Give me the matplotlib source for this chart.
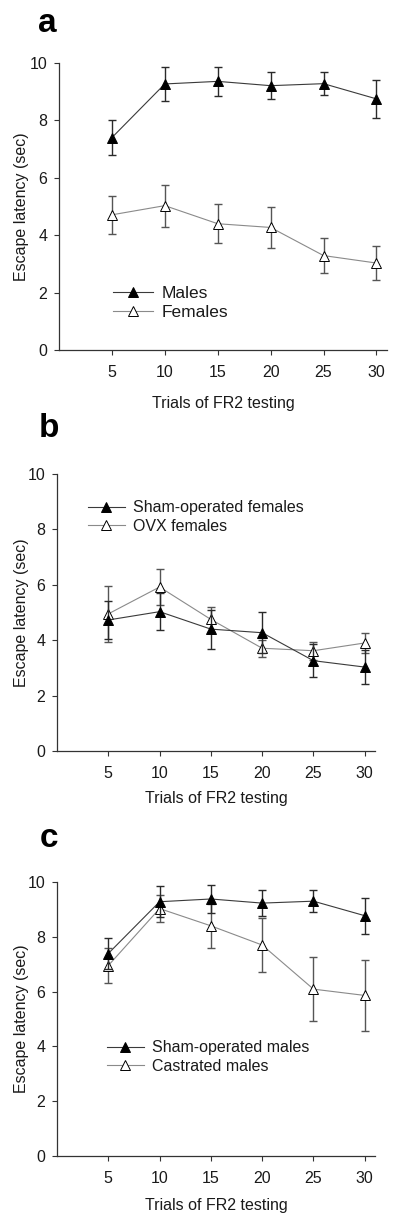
import matplotlib
matplotlib.use("Agg")
import matplotlib.pyplot as plt

plt.rcParams['font.family'] = ['Liberation Sans', 'DejaVu Sans']

trials = [5, 10, 15, 20, 25, 30]
xtick_labels = ['5', '10', '15', '20', '25', '30']
yticks = [0, 2, 4, 6, 8, 10]

# Panel a
males_mean = [7.40, 9.27, 9.36, 9.21, 9.28, 8.75]
males_err = [0.60, 0.60, 0.50, 0.48, 0.40, 0.65]
females_mean = [4.71, 5.03, 4.40, 4.27, 3.29, 3.03]
females_err = [0.67, 0.73, 0.67, 0.73, 0.60, 0.60]

# Panel b
sham_f_mean = [4.73, 5.03, 4.40, 4.27, 3.26, 3.03]
sham_f_err = [0.70, 0.66, 0.70, 0.75, 0.60, 0.60]
ovx_mean = [4.95, 5.92, 4.75, 3.71, 3.62, 3.90]
ovx_err = [1.02, 0.65, 0.45, 0.30, 0.33, 0.35]

# Panel c
sham_m_mean = [7.39, 9.28, 9.38, 9.23, 9.30, 8.77]
sham_m_err = [0.58, 0.56, 0.50, 0.48, 0.40, 0.66]
cast_mean = [6.95, 9.03, 8.40, 7.70, 6.09, 5.86]
cast_err = [0.65, 0.50, 0.80, 1.00, 1.18, 1.30]

W, H = 400, 1221
fig = plt.figure(figsize=(W / 100, H / 100), dpi=100)

def rect(left, right, top, bottom):
    return [left / W, 1 - bottom / H, (right - left) / W, (bottom - top) / H]

panels = [
    dict(rect=rect(59, 387, 63, 350), letter='a', lx=38, ly=32,
         series=[(males_mean, males_err, 'Males', True),
                 (females_mean, females_err, 'Females', False)],
         leg=(0.165, 0.164), legfs=12.5, xl=-0.160, yl=-0.092),
    dict(rect=rect(57, 375, 474, 751), letter='b', lx=39, ly=437,
         series=[(sham_f_mean, sham_f_err, 'Sham-operated females', True),
                 (ovx_mean, ovx_err, 'OVX females', False)],
         leg=(0.0975, 0.845), legfs=11.5, xl=-0.144, yl=-0.088),
    dict(rect=rect(57, 375, 882, 1156), letter='c', lx=40, ly=847,
         series=[(sham_m_mean, sham_m_err, 'Sham-operated males', True),
                 (cast_mean, cast_err, 'Castrated males', False)],
         leg=(0.157, 0.361), legfs=11.5, xl=-0.153, yl=-0.088),
]

txt = '#1a1a1a'
for p in panels:
    ax = fig.add_axes(p['rect'])
    handles = []
    # draw open series first, filled on top
    for mean, err, label, filled in reversed(p['series']):
        if filled:
            lc, ec, mfc, z = '#3a3a3a', '#2a2a2a', 'black', 4
        else:
            lc, ec, mfc, z = '#8a8a8a', '#555555', 'white', 3
        ax.errorbar(trials, mean, yerr=err, fmt='none', ecolor=ec,
                    elinewidth=1.0, capsize=3.0, capthick=1.0, zorder=z)
        h, = ax.plot(trials, mean, color=lc, lw=0.8, marker='^',
                     markersize=6.5, markerfacecolor=mfc,
                     markeredgecolor='black', markeredgewidth=0.7,
                     label=label, zorder=z + 0.5)
        handles.append(h)
    handles = handles[::-1]
    ax.set_xlim(0, 31)
    ax.set_ylim(0, 10)
    ax.set_xticks(trials)
    ax.set_xticklabels(xtick_labels)
    ax.set_yticks(yticks)
    for s in ['top', 'right']:
        ax.spines[s].set_visible(False)
    for s in ['left', 'bottom']:
        ax.spines[s].set_color('#333333')
        ax.spines[s].set_linewidth(0.9)
    ax.tick_params(direction='out', length=3.5, width=0.8, colors='#333333',
                   labelsize=11.5, labelcolor=txt)
    ax.tick_params(axis='x', pad=7)
    ax.tick_params(axis='y', pad=5)
    ax.set_xlabel('Trials of FR2 testing', fontsize=11.5, color=txt)
    ax.set_ylabel('Escape latency (sec)', fontsize=11.5, color=txt)
    ax.xaxis.set_label_coords(0.5, p['xl'])
    ax.yaxis.set_label_coords(p['yl'], 0.5)
    ax.legend(handles=handles, loc='center left', bbox_to_anchor=p['leg'],
              frameon=False, fontsize=p['legfs'], borderpad=0, borderaxespad=0,
              handlelength=2.3, handletextpad=0.5, labelspacing=0.2,
              labelcolor=txt)
    fig.text(p['lx'] / W, 1 - p['ly'] / H, p['letter'], fontsize=24,
             fontweight='bold', ha='left', va='baseline', color='black')

fig.savefig('out.png', dpi=100)
